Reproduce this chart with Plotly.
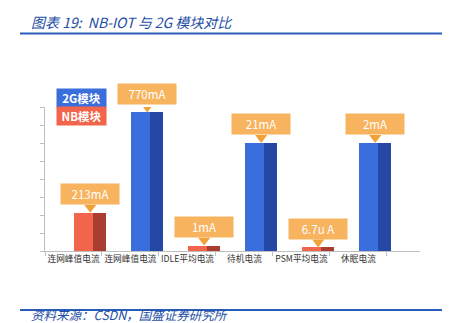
import plotly.graph_objects as go

# ---- data ----
categories = ["连网峰值电流", "连网峰值电流", "IDLE平均电流", "待机电流", "PSM平均电流", "休眠电流"]
module = ["NB", "2G", "NB", "2G", "NB", "2G"]
bar_heights = [2.13, 7.7, 0.3, 6.0, 0.2, 6.0]          # displayed (schematic) bar heights
value_labels = ["213mA", "770mA", "1mA", "21mA", "6.7u A", "2mA"]
legend_labels = ["2G模块", "NB模块"]

# ---- styles ----
light = {"2G": "#3A6EDD", "NB": "#F2654C"}
dark = {"2G": "#2448A3", "NB": "#A93D30"}
box_color = "#F8B35E"
tri_color = "#F2A139"
FONT = "Noto Sans CJK SC"

W, H = 450, 323
ML, MR, MT, MB = 45, 30, 107, 72
plot_h = H - MT - MB
y_max = 8
px_per_unit = plot_h / y_max

light_off, light_w = 0.014, 0.33
dark_off, dark_w = 0.344, 0.23
bar_center = (light_off + dark_off + dark_w) / 2

x_idx = list(range(len(categories)))

fig = go.Figure()
fig.add_trace(go.Bar(x=x_idx, y=bar_heights, offset=light_off, width=light_w,
                     marker=dict(color=[light[m] for m in module], line=dict(width=0)),
                     hoverinfo="skip", showlegend=False))
fig.add_trace(go.Bar(x=x_idx, y=bar_heights, offset=dark_off, width=dark_w,
                     marker=dict(color=[dark[m] for m in module], line=dict(width=0)),
                     hoverinfo="skip", showlegend=False))

tri_size = 10.5
tri_y = [h + (tri_size / 2) / px_per_unit for h in bar_heights]
fig.add_trace(go.Scatter(x=[i + bar_center for i in x_idx], y=tri_y, mode="markers",
                         marker=dict(symbol="triangle-down", size=tri_size, color=tri_color,
                                     line=dict(width=0)),
                         hoverinfo="skip", showlegend=False))

annotations = []
for i, (h, lab) in enumerate(zip(bar_heights, value_labels)):
    annotations.append(dict(x=i + bar_center, y=h, xref="x", yref="y", text=lab,
                            showarrow=False, yanchor="bottom", yshift=tri_size * 0.75,
                            bgcolor=box_color, width=58, height=20, borderpad=0,
                            font=dict(family=FONT, size=11.5, color="white")))

def px_to_paper_x(px):
    return (px - ML) / (W - ML - MR)

def px_to_paper_y(py):
    return (H - MB - py) / plot_h

# legend boxes
for lab, key, cy in [(legend_labels[0], "2G", 98), (legend_labels[1], "NB", 115.5)]:
    annotations.append(dict(x=px_to_paper_x(81.5), y=px_to_paper_y(cy), xref="paper", yref="paper",
                            text="<b>" + lab + "</b>", showarrow=False, xanchor="center",
                            yanchor="middle", bgcolor=light[key], width=49, height=17.5,
                            borderpad=0, font=dict(family=FONT, size=11.5, color="white")))

# title and source
annotations.append(dict(x=px_to_paper_x(29), y=px_to_paper_y(21.5), xref="paper", yref="paper",
                        text="<i>图表 19:  NB-IOT 与 2G 模块对比</i>", showarrow=False,
                        xanchor="left", yanchor="middle",
                        font=dict(family=FONT, size=14, color="#1E4EA6")))
annotations.append(dict(x=px_to_paper_x(29), y=px_to_paper_y(314.5), xref="paper", yref="paper",
                        text="<i>资料来源：CSDN，国盛证券研究所</i>", showarrow=False,
                        xanchor="left", yanchor="middle",
                        font=dict(family=FONT, size=12.5, color="#1E4EA6")))

shapes = [
    dict(type="line", xref="paper", yref="paper", x0=px_to_paper_x(20), x1=px_to_paper_x(442),
         y0=px_to_paper_y(33.5), y1=px_to_paper_y(33.5), line=dict(color="#2A5DBA", width=2)),
    dict(type="line", xref="paper", yref="paper", x0=px_to_paper_x(20), x1=px_to_paper_x(442),
         y0=px_to_paper_y(310), y1=px_to_paper_y(310), line=dict(color="#2A5DBA", width=2)),
]

fig.update_layout(
    width=W, height=H, margin=dict(l=ML, r=MR, t=MT, b=MB),
    paper_bgcolor="white", plot_bgcolor="white",
    barmode="overlay", bargap=0,
    annotations=annotations, shapes=shapes,
    font=dict(family=FONT),
    xaxis=dict(range=[-0.5, 6.08], showline=True, linecolor="#BFBFBF", linewidth=1,
               tickmode="array", tickvals=x_idx, ticktext=categories, tickangle=0,
               ticks="", showgrid=False, zeroline=False,
               minor=dict(tickmode="linear", tick0=-0.5, dtick=1, ticks="outside", ticklen=4,
                          tickcolor="#BFBFBF", showgrid=False),
               tickfont=dict(family=FONT, size=8.7, color="#333333"), fixedrange=True),
    yaxis=dict(range=[0, y_max], dtick=1, showline=True, linecolor="#BFBFBF", linewidth=1,
               ticks="outside", ticklen=4, tickcolor="#BFBFBF", showticklabels=False,
               showgrid=False, zeroline=False, fixedrange=True),
)

fig.write_html("out.html")
